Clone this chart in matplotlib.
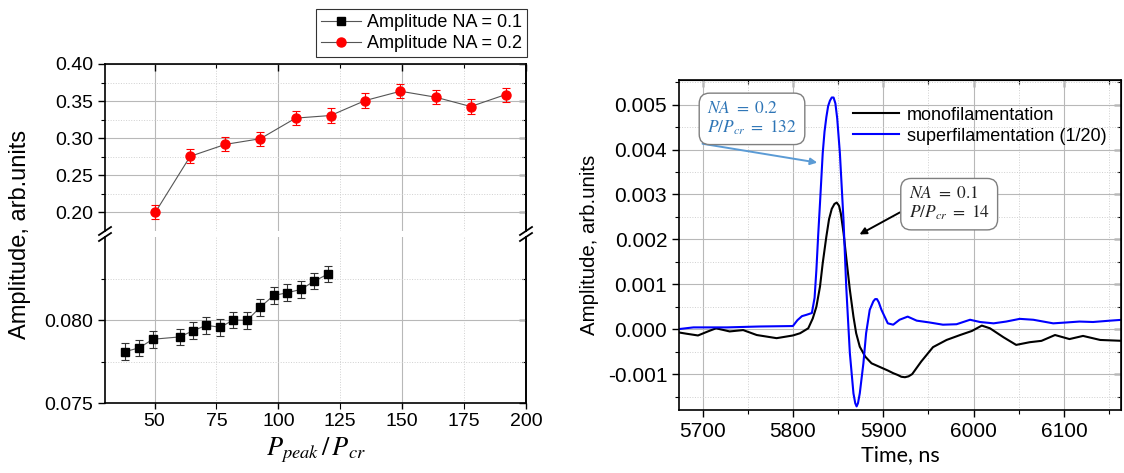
import matplotlib
matplotlib.use("Agg")
import matplotlib.pyplot as plt
from matplotlib.lines import Line2D
import numpy as np

plt.rcParams['font.family'] = ['Liberation Sans', 'DejaVu Sans']
plt.rcParams['mathtext.fontset'] = 'stix'

# ---------------- data: left chart ----------------
p_na01 = [38.2, 43.8, 49.3, 60.1, 65.7, 70.9, 76.5, 81.8, 87.4, 92.6, 98.1, 103.6, 109.0, 114.5, 119.9]
amp_na01 = [0.07810, 0.07832, 0.07884, 0.07898, 0.07936, 0.07968, 0.07956, 0.08000,
            0.07998, 0.08076, 0.08148, 0.08164, 0.08184, 0.08234, 0.08276]
err_na01 = [0.0005] * 15

p_na02 = [50.3, 64.4, 78.6, 92.7, 107.0, 121.1, 135.1, 149.3, 163.5, 177.7, 191.8]
amp_na02 = [0.200, 0.2756, 0.2917, 0.2993, 0.3271, 0.3306, 0.3508, 0.3633, 0.3553, 0.3427, 0.3588]
err_na02 = [0.0095] * 11

left_xticks = [50, 100, 150, 200]
left_xminor = [75, 125, 175]

# ---------------- data: right chart ----------------
t_mono = [5673, 5682, 5695, 5706, 5715, 5730, 5745, 5760, 5782, 5800, 5808, 5817, 5822,
          5826, 5830, 5833, 5837, 5840, 5843, 5846, 5848.5, 5851, 5853, 5856, 5859, 5863,
          5867, 5870, 5874, 5880, 5887, 5896, 5905, 5911, 5916, 5920, 5924, 5928, 5932,
          5942, 5955, 5970, 5985, 5998, 6009, 6018, 6033, 6047, 6062, 6075, 6090, 6106,
          6121, 6140, 6165]
a_mono = [-0.00007, -0.00010, -0.00014, -0.00005, 0.00002, -0.00005, -0.00002, -0.00013,
          -0.00020, -0.00014, -0.00009, 0.00002, 0.00024, 0.00050, 0.00095, 0.00147,
          0.00206, 0.00245, 0.00268, 0.00279, 0.00282, 0.00275, 0.00258, 0.00215,
          0.00160, 0.00088, 0.00028, -0.00009, -0.00039, -0.00061, -0.00076, -0.00084,
          -0.00092, -0.00098, -0.00102, -0.00106, -0.00107, -0.00105, -0.00100, -0.00072,
          -0.00040, -0.00024, -0.00013, -0.00004, 0.00008, 0.00002, -0.00018, -0.00035,
          -0.00029, -0.00026, -0.00013, -0.00022, -0.00015, -0.00024, -0.00026]

t_super = [5673, 5690, 5727, 5763, 5800, 5805, 5810, 5815, 5821, 5824, 5826, 5828, 5830,
           5833, 5835, 5837, 5839, 5841, 5843, 5845, 5847, 5849, 5852, 5856, 5859, 5863,
           5867, 5869, 5870.5, 5872, 5874, 5878, 5881, 5885, 5889, 5891, 5893, 5895, 5898,
           5905, 5911, 5918, 5927, 5937, 5951, 5966, 5981, 5996, 6007, 6022, 6036, 6051,
           6066, 6077, 6088, 6103, 6117, 6132, 6151, 6165]
a_super = [0.00000, 0.00004, 0.00004, 0.00006, 0.00007, 0.00020, 0.00029, 0.00032,
           0.00036, 0.00070, 0.00132, 0.00210, 0.00281, 0.00392, 0.00440, 0.00472,
           0.00497, 0.00509, 0.00516, 0.00516, 0.00503, 0.00470, 0.00392, 0.00243,
           0.00095, -0.00053, -0.00143, -0.00165, -0.00172, -0.00165, -0.00143, -0.00076,
           -0.00009, 0.00043, 0.00062, 0.00067, 0.00067, 0.00060, 0.00043, 0.00013,
           0.00010, 0.00021, 0.00028, 0.00019, 0.00015, 0.00010, 0.00011, 0.00021,
           0.00016, 0.00013, 0.00017, 0.00023, 0.00021, 0.00017, 0.00013, 0.00015,
           0.00017, 0.00016, 0.00019, 0.00021]

right_xticks = [5700, 5800, 5900, 6000, 6100]
right_xminor = [5750, 5850, 5950, 6050, 6150]
right_yticks = [-0.001, 0.000, 0.001, 0.002, 0.003, 0.004, 0.005]
right_yminor = [-0.0015, -0.0005, 0.0005, 0.0015, 0.0025, 0.0035, 0.0045, 0.0055]

W, H = 1124, 473
fig = plt.figure(figsize=(W / 100, H / 100), dpi=100)


def fbox(l, t, r, b):
    return [l / W, 1 - b / H, (r - l) / W, (b - t) / H]


# ---------------- left chart (broken axis) ----------------
L, R = 105, 526
ax_up = fig.add_axes(fbox(L, 64, R, 231))
ax_lo = fig.add_axes(fbox(L, 237, R, 403))

grid_major = dict(color='#b8b8b8', lw=0.8, ls='-')
grid_minor = dict(color='#d0d0d0', lw=0.7, ls=':')

for ax in (ax_up, ax_lo):
    ax.set_xticks(left_xticks)
    ax.set_xticks(left_xminor, minor=True)
    ax.set_xlim(30, 200)
    ax.grid(True, which='major', **grid_major)
    ax.grid(True, which='minor', **grid_minor)
    ax.set_axisbelow(True)
    for s in ax.spines.values():
        s.set_linewidth(1.2)

# upper
ax_up.set_yticks([0.20, 0.25, 0.30, 0.35, 0.40])
ax_up.set_yticks([0.225, 0.275, 0.325, 0.375], minor=True)
ax_up.set_ylim(0.175, 0.40)
ax_up.yaxis.set_major_formatter(matplotlib.ticker.FormatStrFormatter('%.2f'))
ax_up.spines['bottom'].set_visible(False)
ax_up.tick_params(axis='x', which='both', bottom=False, labelbottom=False, top=True, direction='in')
ax_up.tick_params(axis='x', which='major', length=5, width=1.0)
ax_up.tick_params(axis='x', which='minor', length=3, width=0.8)
ax_up.tick_params(axis='y', which='both', left=True, right=False, direction='out', labelsize=14)
ax_up.tick_params(axis='y', which='major', length=5, width=1.0)
ax_up.tick_params(axis='y', which='minor', length=3, width=0.8)

# lower
ax_lo.set_yticks([0.075, 0.080])
ax_lo.set_yticks([0.0775, 0.0825], minor=True)
ax_lo.set_ylim(0.075, 0.085)
ax_lo.yaxis.set_major_formatter(matplotlib.ticker.FormatStrFormatter('%.3f'))
ax_lo.spines['top'].set_visible(False)
ax_lo.xaxis.set_major_formatter(matplotlib.ticker.FormatStrFormatter('%d'))
ax_lo.xaxis.set_minor_formatter(matplotlib.ticker.FormatStrFormatter('%d'))
ax_lo.tick_params(axis='x', which='both', direction='out', labelsize=14, top=False)
ax_lo.tick_params(axis='x', which='major', length=4, width=1.0)
ax_lo.tick_params(axis='x', which='minor', length=4, width=0.8, labelsize=14)
ax_lo.tick_params(axis='y', which='both', direction='out', labelsize=14)
ax_lo.tick_params(axis='y', which='major', length=5, width=1.0)
ax_lo.tick_params(axis='y', which='minor', length=3, width=0.8)

for ax in (ax_up, ax_lo):
    sec = ax.secondary_yaxis('right')
    sec.set_yticks(ax.get_yticks())
    sec.set_yticks(ax.get_yticks(minor=True), minor=True)
    sec.tick_params(axis='y', which='both', direction='in', labelright=False)
    sec.tick_params(axis='y', which='major', length=5, width=1.0)
    sec.tick_params(axis='y', which='minor', length=3, width=0.8)
    sec.spines['right'].set_linewidth(1.2)

line_lo, = ax_lo.plot(p_na01, amp_na01, color='#555555', lw=0.8, marker='s', ms=6,
                      mfc='black', mec='black', label='Amplitude NA = 0.1', zorder=3)
ax_lo.errorbar(p_na01, amp_na01, yerr=err_na01, fmt='none', ecolor='#333333',
               elinewidth=0.8, capsize=3, capthick=0.8, zorder=2)
line_up, = ax_up.plot(p_na02, amp_na02, color='#555555', lw=0.8, marker='o', ms=6.5,
                      mfc='#ff0000', mec='#ff0000', label='Amplitude NA = 0.2', zorder=3)
ax_up.errorbar(p_na02, amp_na02, yerr=err_na02, fmt='none', ecolor='#ff0000',
               elinewidth=0.8, capsize=3, capthick=0.8, zorder=2)

# break marks
yc = 234
for xc in (L, R):
    for dy in (-3, 3):
        fig.add_artist(Line2D([(xc - 6) / W, (xc + 6) / W],
                              [1 - (yc + dy + 4) / H, 1 - (yc + dy - 4) / H],
                              color='black', lw=1.3))

ax_lo.set_xlabel(r'$P_{peak}\,/\,P_{cr}$', fontsize=19, labelpad=4)
fig.text(20 / W, 1 - 234 / H, 'Amplitude, arb.units', rotation=90, fontsize=17,
         ha='center', va='center')

fig.legend(handles=[line_lo, line_up], loc='upper right',
           bbox_to_anchor=(527 / W, 1 - 9 / H), fontsize=13, frameon=True,
           fancybox=False, edgecolor='black', borderaxespad=0, labelspacing=0.2,
           handlelength=2.2, handletextpad=0.3, borderpad=0.3).get_frame().set_linewidth(0.8)

# ---------------- right chart ----------------
axr = fig.add_axes(fbox(679, 80, 1121, 410))
axr.set_xticks(right_xticks)
axr.set_xticks(right_xminor, minor=True)
axr.set_yticks(right_yticks)
axr.set_yticks(right_yminor, minor=True)
axr.yaxis.set_major_formatter(matplotlib.ticker.FormatStrFormatter('%.3f'))
axr.grid(True, which='major', **grid_major)
axr.grid(True, which='minor', **grid_minor)
axr.set_axisbelow(True)
for s in axr.spines.values():
    s.set_linewidth(1.2)
axr.tick_params(axis='both', which='both', direction='out', labelsize=15)
axr.tick_params(which='major', length=5, width=1.0)
axr.tick_params(which='minor', length=3, width=0.8)
secx = axr.secondary_xaxis('top')
secx.set_xticks(right_xticks)
secx.set_xticks(right_xminor, minor=True)
secx.tick_params(axis='x', which='both', direction='in', labeltop=False)
secx.tick_params(which='major', length=5, width=1.0)
secx.tick_params(which='minor', length=3, width=0.8)
secy = axr.secondary_yaxis('right')
secy.set_yticks(right_yticks)
secy.set_yticks(right_yminor, minor=True)
secy.tick_params(axis='y', which='both', direction='in', labelright=False)
secy.tick_params(which='major', length=5, width=1.0)
secy.tick_params(which='minor', length=3, width=0.8)
axr.set_xlim(5674, 6163)
axr.set_ylim(-0.0018, 0.00555)

axr.plot(t_mono, a_mono, color='black', lw=1.5, label='monofilamentation')
axr.plot(t_super, a_super, color='#0000ff', lw=1.5, label='superfilamentation (1/20)')

axr.legend(loc='upper right', bbox_to_anchor=(0.975, 0.93), frameon=False, fontsize=13,
           borderaxespad=0, borderpad=0.2, labelspacing=0.22, handlelength=2.6,
           handletextpad=0.4)

axr.set_xlabel('Time, ns', fontsize=15.5, family=['Lato', 'DejaVu Sans'], labelpad=3)
axr.set_ylabel('Amplitude, arb.units', fontsize=14.7, labelpad=6)

box = dict(boxstyle='round,pad=0.45,rounding_size=0.6', fc='white', ec='#7f7f7f', lw=1.0)
axr.annotate('', xy=(5830, 0.00370), xytext=(5697, 0.00414),
             arrowprops=dict(arrowstyle='-|>', color='#5b9bd5', lw=1.4, mutation_scale=10))
axr.text(5705, 0.00470, '$NA\\ =\\ 0.2$\n$P/P_{cr}\\ =\\ 132$', color='#2e75b6',
         fontsize=12.5, ha='left', va='center', bbox=box, linespacing=1.2)
axr.annotate('', xy=(5871, 0.00208), xytext=(5921, 0.00263),
             arrowprops=dict(arrowstyle='-|>', color='black', lw=1.4, mutation_scale=10))
axr.text(5928, 0.00280, '$NA\\ =\\ 0.1$\n$P/P_{cr}\\ =\\ 14$', color='#222222',
         fontsize=12.5, ha='left', va='center', bbox=box, linespacing=1.2)

fig.savefig('out.png', dpi=100)
